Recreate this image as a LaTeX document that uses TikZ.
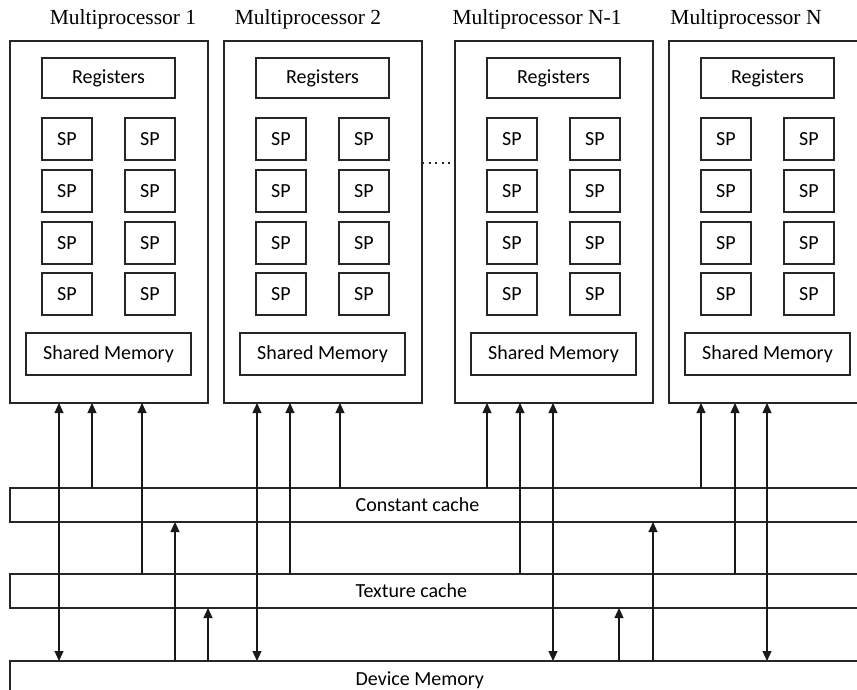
\documentclass[tikz,border=0pt]{standalone}
\usepackage{fontspec}
\setmainfont{Carlito}
\newfontfamily\mptitlefont{Liberation Serif}
\usetikzlibrary{arrows.meta,positioning}
\tikzset{
box/.style = {draw=black!85, rectangle, inner sep=0pt, outer sep=0pt, font=\fontsize{20}{24}\selectfont},
mpbox/.style = {box, minimum width=198pt, minimum height=362pt},
regbox/.style = {box, minimum width=133pt, minimum height=40pt},
spbox/.style = {box, minimum width=50pt, minimum height=42pt},
shbox/.style = {box, minimum width=165pt, minimum height=42pt},
bar/.style = {box, anchor=north west, minimum width=900pt, minimum height=34pt},
mptitle/.style = {anchor=base, inner sep=0pt, font=\mptitlefont\fontsize{21.5}{26}\selectfont},
barlabel/.style = {anchor=west, inner sep=0pt, font=\fontsize{20}{24}\selectfont},
link/.style = {draw=black!90}
}

\begin{document}
\begin{tikzpicture}[x=1pt, y=-1pt, line width=1.2pt, >={Triangle[length=10pt,width=9pt]}]
\useasboundingbox (0,0) rectangle (857,690);
\clip (0,0) rectangle (857,690);

% multiprocessors with their registers, SPs and shared memory
\foreach \i/\l/\t/\tx in {1/10/Multiprocessor 1/123, 2/224/Multiprocessor 2/308,
                          3/455/Multiprocessor N-1/537, 4/669/Multiprocessor N/746} {
  \node[mpbox] (mp\i) at (\l+99,222) {};
  \node[mptitle] (title\i) at (\tx,25) {\t};
  \node[regbox] (reg\i) at (\l+98.5,78) {Registers};
  \foreach \r/\y in {1/139,2/191,3/243,4/294}
    \foreach \c/\x in {1/57,2/140}
      \node[spbox] (sp\i-\r-\c) at (\l+\x,\y) {SP};
  \node[shbox] (sh\i) at (\l+98.5,354) {Shared Memory};
}
\draw[black!85, dash pattern=on 2pt off 4.5pt] ([yshift=59pt]mp2.east) -- ([yshift=59pt]mp3.west);

% caches and device memory
\node[bar] (cc) at (10,488) {};
\node[bar] (tc) at (10,574) {};
\node[bar, minimum height=40pt] (dm) at (10,661) {};
\node[barlabel] (cclabel) at ([xshift=345pt]cc.west) {Constant cache};
\node[barlabel] (tclabel) at ([xshift=345pt]tc.west) {Texture cache};
\node[barlabel] (dmlabel) at ([xshift=345pt,yshift=1pt]dm.west) {Device Memory};

% multiprocessor <-> device memory
\foreach \i/\dx in {1/49,2/33,3/98,4/98} {
  \path (mp\i.south west) ++(\dx,0) coordinate (dev\i);
  \draw[link,<->] (dev\i) -- (dev\i |- dm.north);
}
% constant cache -> multiprocessor
\foreach \i/\dx in {1/82,2/116,3/32,4/32} {
  \path (mp\i.south west) ++(\dx,0) coordinate (con\i);
  \draw[link,->] (con\i |- cc.north) -- (con\i);
}
% texture cache -> multiprocessor
\foreach \i/\dx in {1/132,2/66,3/65,4/66} {
  \path (mp\i.south west) ++(\dx,0) coordinate (tex\i);
  \draw[link,->] (tex\i |- tc.north) -- (tex\i);
}
% device memory -> caches
\foreach \j/\dx/\c in {1/165/cc,2/198/tc,3/609/tc,4/643/cc} {
  \path (dm.north west) ++(\dx,0) coordinate (up\j);
  \draw[link,->] (up\j) -- (up\j |- \c.south);
}
\end{tikzpicture}
\end{document}
